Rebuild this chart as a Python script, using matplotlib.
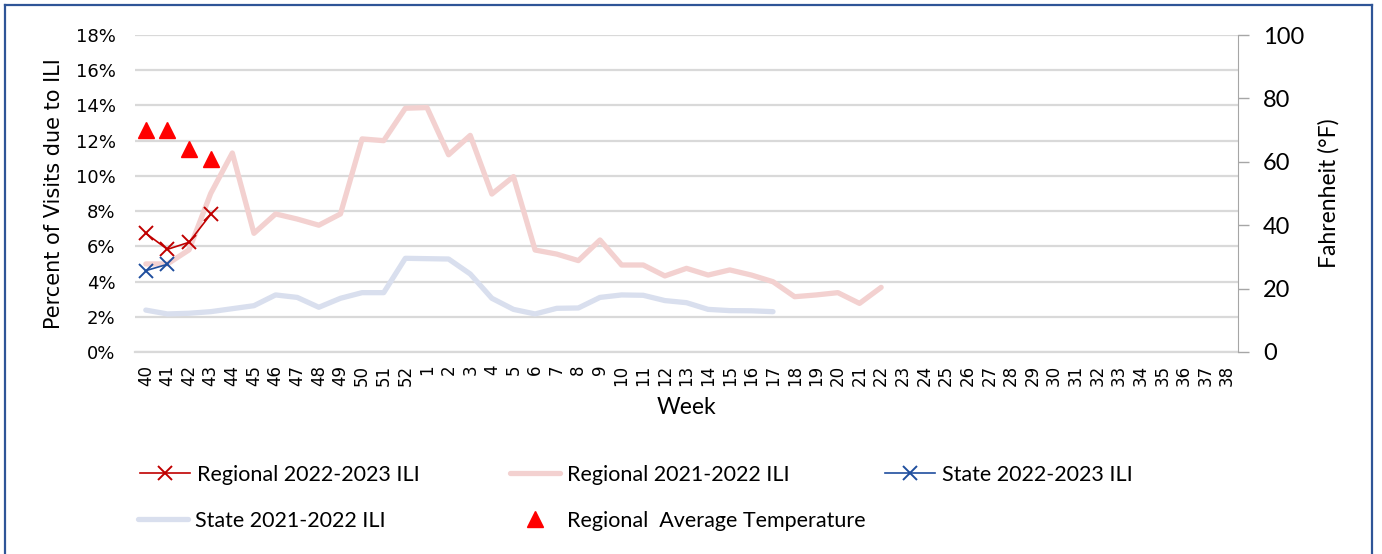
import matplotlib
matplotlib.use("Agg")
import matplotlib.pyplot as plt
from matplotlib.lines import Line2D
import numpy as np

weeks = [str(w) for w in list(range(40, 53)) + list(range(1, 39))]

regional_2223 = [6.74, 5.83, 6.23, 7.82]
state_2223 = [4.62, 4.98]
regional_2122 = [5.0, 5.0, 5.8, 9.0, 11.3, 6.74, 7.84, 7.55, 7.2, 7.84, 12.1, 12.0, 13.84,
                 13.88, 11.2, 12.3, 8.97, 9.96, 5.79, 5.56, 5.19, 6.36, 4.94, 4.94, 4.32,
                 4.75, 4.37, 4.66, 4.37, 3.99, 3.14, 3.24, 3.37, 2.76, 3.67]
state_2122 = [2.38, 2.16, 2.2, 2.29, 2.46, 2.63, 3.24, 3.1, 2.54, 3.05, 3.37, 3.37, 5.32,
              5.3, 5.28, 4.43, 3.05, 2.42, 2.16, 2.48, 2.5, 3.1, 3.24, 3.22, 2.92, 2.8,
              2.42, 2.35, 2.34, 2.29]
temperature = [70, 70, 64, 61]

legend_labels = ["Regional 2022-2023 ILI", "Regional 2021-2022 ILI", "State 2022-2023 ILI",
                 "State 2021-2022 ILI", "Regional  Average Temperature"]

C_R23 = "#C00000"
C_R22 = "#F3D1D0"
C_S23 = "#1F4E9E"
C_S22 = "#D9DFEE"
C_T = "#FF0000"
GRID = "#D9D9D9"
CAL = ["Lato", "DejaVu Sans"]

fig = plt.figure(figsize=(13.82, 5.54), dpi=100)
ax = fig.add_axes([135/1382, 1-352/554, (1238-135)/1382, (352-35)/554])
ax2 = ax.twinx()

x = np.arange(len(weeks))

ax.plot(x[:len(state_2122)], state_2122, color=C_S22, lw=3.8, solid_capstyle="round", zorder=2)
ax.plot(x[:len(regional_2122)], regional_2122, color=C_R22, lw=3.8, solid_capstyle="round", zorder=3)
ax.plot(x[:len(regional_2223)], regional_2223, color=C_R23, lw=1.2, marker="x",
        markersize=10, markeredgewidth=1.4, zorder=5)
ax.plot(x[:len(state_2223)], state_2223, color=C_S23, lw=1.2, marker="x",
        markersize=10, markeredgewidth=1.4, zorder=5)
ax2.plot(x[:len(temperature)], temperature, linestyle="none", marker="^", color=C_T,
         markersize=12, zorder=6)

ax.set_xlim(-0.5, len(weeks) - 0.5)
ax.set_ylim(0, 18)
ax.set_yticks(np.arange(0, 19, 2))
ax.set_yticklabels([f"{v}%" for v in range(0, 19, 2)], family="DejaVu Sans", fontsize=13)
ax.set_xticks(x)
ax.set_xticklabels(weeks, rotation=90, family="DejaVu Sans", fontsize=12)
ax.tick_params(axis="x", length=0, pad=9)
ax.tick_params(axis="y", length=0, pad=14)
ax.grid(axis="y", color=GRID, lw=1.6)
ax.set_axisbelow(True)
for s in ["top", "left", "right"]:
    ax.spines[s].set_visible(False)
ax.spines["bottom"].set_color(GRID)
ax.spines["bottom"].set_linewidth(1.6)

ax2.set_ylim(0, 100)
ax2.set_yticks(np.arange(0, 101, 20))
ax2.set_yticklabels([str(v) for v in range(0, 101, 20)], family=CAL, fontsize=17)
ax2.tick_params(axis="y", length=8, width=1, color="#A6A6A6", pad=10)
for s in ["top", "left", "bottom"]:
    ax2.spines[s].set_visible(False)
ax2.spines["right"].set_color("#A6A6A6")
ax2.set_zorder(ax.get_zorder() + 1)
ax2.patch.set_visible(False)

ax.set_ylabel("Percent of Visits due to ILI", family="DejaVu Sans", fontsize=15)
ax.yaxis.set_label_coords(-(135-64)/1103, 0.5)
ax2.set_ylabel("Fahrenheit (°F)", family=CAL, fontsize=16.5, rotation=90)
ax2.yaxis.set_label_coords((1318-135)/1103, 0.5)
ax.set_xlabel("Week", family=CAL, fontsize=16.5)
ax.xaxis.set_label_coords(0.5, -(397-352)/317)

handles = [
    Line2D([], [], color=C_R23, lw=1.2, marker="x", markersize=10, markeredgewidth=1.4),
    Line2D([], [], color=C_R22, lw=3.8, solid_capstyle="round"),
    Line2D([], [], color=C_S23, lw=1.2, marker="x", markersize=10, markeredgewidth=1.4),
    Line2D([], [], color=C_S22, lw=3.8, solid_capstyle="round"),
    Line2D([], [], linestyle="none", marker="^", color=C_T, markersize=11),
]
pos = [(140, 475), (510, 475), (885, 475), (138, 521), (510, 521)]
for h, lab, (px, py) in zip(handles, legend_labels, pos):
    fig.legend(handles=[h], labels=[lab], loc="center left",
               bbox_to_anchor=(px/1382, 1-py/554), frameon=False, borderpad=0,
               borderaxespad=0, handlelength=2.3, handletextpad=0.35,
               prop={"family": CAL, "size": 15.5})

bc = "#2F5597"
fig.add_artist(Line2D([5/1382, 5/1382], [0, 1-5/554], color=bc, lw=1.6))
fig.add_artist(Line2D([5/1382, 1372/1382], [1-5/554, 1-5/554], color=bc, lw=1.6))
fig.add_artist(Line2D([1372/1382, 1372/1382], [0, 1-5/554], color=bc, lw=1.6))

fig.savefig("out.png", dpi=100)
